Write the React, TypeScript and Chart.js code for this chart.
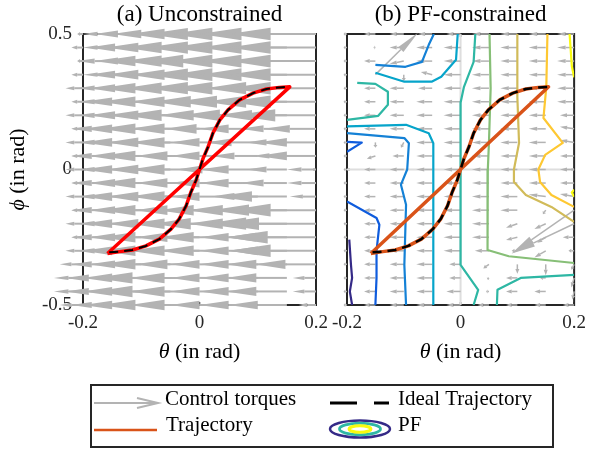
import React, { useEffect, useRef } from "react";
import { Chart, registerables } from "chart.js";
Chart.register(...registerables);

const FONT = "'Liberation Serif', 'Times New Roman', serif";
Chart.defaults.font.family = FONT;

// ---------- axes ----------
const thetaTicks = [-0.2, 0, 0.2];
const thetaTickLabels = ["-0.2", "0", "0.2"];
const phiTicks = [-0.5, 0, 0.5];
const phiTickLabels = ["-0.5", "0", "0.5"];

// ---------- quiver grid ----------
const gridTheta = [-0.2, -0.15, -0.1, -0.05, 0, 0.05, 0.1, 0.15, 0.2];
const gridPhi = [0.5, 0.45, 0.4, 0.35, 0.3, 0.25, 0.2, 0.15, 0.1, 0.05, 0, -0.05, -0.1, -0.15, -0.2, -0.25, -0.3, -0.35, -0.4, -0.45, -0.5];

// (a) unconstrained control torques (horizontal component, rows = gridPhi, cols = gridTheta)
const uLeft = [
  [-0.01, -0.05, -0.08, -0.1, -0.12, -0.14, -0.15, -0.15, -0.15],
  [-0.02, -0.05, -0.09, -0.11, -0.13, -0.14, -0.15, -0.15, -0.15],
  [-0.01, -0.06, -0.08, -0.12, -0.13, -0.15, -0.15, -0.15, -0.15],
  [-0.02, -0.05, -0.09, -0.11, -0.12, -0.14, -0.15, -0.15, -0.15],
  [-0.03, -0.06, -0.09, -0.12, -0.13, -0.14, -0.15, -0.14, -0.15],
  [-0.02, -0.06, -0.1, -0.12, -0.12, -0.13, -0.14, -0.14, -0.15],
  [-0.03, -0.06, -0.09, -0.11, -0.13, -0.12, -0.13, -0.12, -0.14],
  [-0.02, -0.07, -0.1, -0.12, -0.12, -0.11, -0.1, -0.08, -0.09],
  [-0.03, -0.06, -0.1, -0.11, -0.12, -0.1, -0.09, -0.07, -0.1],
  [-0.02, -0.07, -0.09, -0.12, -0.11, -0.1, -0.08, -0.06, -0.1],
  [-0.03, -0.06, -0.1, -0.11, -0.12, -0.09, -0.1, -0.07, -0.05],
  [-0.02, -0.07, -0.09, -0.12, -0.11, -0.1, -0.1, -0.08, -0.05],
  [-0.03, -0.06, -0.1, -0.11, -0.12, -0.1, -0.08, -0.12, -0.045],
  [-0.02, -0.07, -0.09, -0.12, -0.11, -0.12, -0.12, -0.13, -0.15],
  [-0.03, -0.06, -0.1, -0.11, -0.12, -0.13, -0.12, -0.14, -0.17],
  [-0.02, -0.07, -0.09, -0.12, -0.11, -0.12, -0.1, -0.105, -0.155],
  [-0.03, -0.06, -0.1, -0.12, -0.12, -0.12, -0.1, -0.1, -0.15],
  [-0.04, -0.07, -0.09, -0.12, -0.11, -0.1, -0.1, -0.105, -0.105],
  [-0.05, -0.08, -0.1, -0.13, -0.12, -0.1, -0.1, -0.105, -0.04],
  [-0.05, -0.08, -0.1, -0.13, -0.12, -0.1, -0.1, -0.105, -0.04],
  [-0.04, -0.07, -0.1, -0.12, -0.12, -0.1, -0.1, -0.1, -0.03],
];
const vLeft = gridPhi.map(() => gridTheta.map(() => 0));

// (b) PF-constrained control torques
const uRight = [
  [-0.006, -0.02, -0.025, -0.025, -0.025, -0.03, -0.03, -0.03, -0.03],
  [-0.006, -0.003, -0.025, -0.028, -0.03, -0.03, -0.03, -0.03, -0.03],
  [-0.006, -0.02, -0.025, -0.028, -0.03, -0.03, -0.03, -0.03, -0.03],
  [-0.006, 0.075, 0.0, -0.02, -0.03, -0.03, -0.03, -0.03, -0.03],
  [-0.006, -0.02, -0.025, -0.025, -0.03, -0.03, -0.03, -0.03, -0.03],
  [-0.006, -0.02, -0.025, -0.028, -0.03, -0.03, -0.03, -0.03, -0.03],
  [-0.006, -0.02, -0.025, -0.028, -0.03, -0.03, -0.03, -0.03, -0.025],
  [-0.006, -0.02, -0.025, -0.028, -0.03, -0.03, -0.03, -0.03, -0.025],
  [-0.006, 0.0, -0.005, -0.028, -0.03, -0.03, -0.03, -0.03, -0.025],
  [-0.006, -0.015, -0.02, -0.028, -0.03, -0.03, -0.03, -0.03, -0.025],
  [-0.006, -0.02, -0.025, -0.028, -0.03, -0.03, -0.03, -0.03, -0.025],
  [-0.006, -0.02, -0.025, -0.028, -0.03, -0.03, -0.03, -0.03, -0.025],
  [-0.006, -0.02, -0.025, -0.028, -0.03, -0.03, -0.03, -0.03, -0.025],
  [-0.006, -0.02, -0.025, -0.028, -0.03, -0.03, -0.03, -0.005, -0.11],
  [-0.006, -0.02, -0.025, -0.028, -0.03, -0.03, -0.02, -0.02, -0.11],
  [-0.006, -0.02, -0.025, -0.028, -0.03, -0.03, -0.02, -0.015, -0.02],
  [-0.006, -0.02, -0.025, -0.028, -0.03, -0.025, -0.01, -0.02, -0.01],
  [-0.006, -0.02, -0.025, -0.028, -0.02, -0.01, 0.0, 0.0, -0.005],
  [-0.006, -0.02, -0.025, -0.028, -0.02, -0.003, -0.02, -0.01, -0.005],
  [-0.006, -0.02, -0.025, -0.028, -0.025, -0.005, -0.02, -0.02, -0.003],
  [-0.006, -0.02, -0.025, -0.028, -0.025, -0.02, -0.02, -0.02, -0.02],
];
const vRight = [
  [0, 0, 0, 0, 0, 0, 0, 0, 0],
  [0, 0, 0, 0, 0, 0, 0, 0, 0],
  [0, 0, -0.01, 0, 0, 0, 0, 0, 0],
  [0, 0.155, -0.025, 0.01, 0, 0, 0, 0, 0],
  [0, 0, 0, 0, 0, 0, 0, 0, 0],
  [0, 0, 0, 0, 0, 0, 0, 0, 0],
  [0, 0, 0, 0, 0, 0, 0, 0, 0],
  [0, 0, 0, 0, 0, 0, 0, 0, 0.008],
  [0, -0.02, -0.02, 0, 0, 0, 0, 0, 0.008],
  [0, -0.01, 0, 0, 0, 0, 0, 0, 0],
  [0, 0, 0, 0, 0, 0, 0, 0, 0],
  [0, 0, 0, 0, 0, 0, 0, 0, 0],
  [0, 0, 0, 0, 0, 0, 0, 0.008, 0.01],
  [0, 0, 0, 0, 0, 0, 0, -0.015, -0.16],
  [0, 0, 0, 0, 0, 0, -0.015, -0.02, -0.11],
  [0, 0, 0, 0, 0, 0, -0.01, -0.02, 0],
  [0, 0, 0, 0, 0, 0, 0, -0.025, 0],
  [0, 0, 0, 0, 0, -0.015, -0.035, -0.04, -0.02],
  [0, 0, 0, 0, 0, -0.005, 0, 0, -0.035],
  [0, 0, 0, 0, 0, 0, 0, 0, -0.03],
  [0, 0, 0, 0, 0, 0, 0, 0, 0],
];

// ---------- trajectories ----------
const idealTheta = [-0.155, -0.137, -0.115, -0.092, -0.069, -0.049, -0.035, -0.023, -0.015, -0.006, 0, 0.006, 0.015, 0.023, 0.035, 0.049, 0.069, 0.092, 0.115, 0.137, 0.155];
const idealPhi = [-0.305, -0.303, -0.297, -0.282, -0.257, -0.22, -0.183, -0.134, -0.085, -0.04, 0, 0.04, 0.085, 0.134, 0.183, 0.22, 0.257, 0.282, 0.297, 0.303, 0.305];
const trajTheta = [-0.158, 0.155, 0.137, 0.115, 0.092, 0.069, 0.049, 0.035, 0.023, 0.015, 0.006, 0, -0.006, -0.015, -0.023, -0.035, -0.049, -0.069, -0.092, -0.115, -0.137, -0.158];
const trajPhi = [-0.31, 0.305, 0.303, 0.297, 0.282, 0.257, 0.22, 0.183, 0.134, 0.085, 0.04, 0, -0.04, -0.085, -0.134, -0.183, -0.22, -0.257, -0.282, -0.297, -0.303, -0.31];

// ---------- PF contour pieces [theta, phi] ----------
const pf1 = [[-0.196, -0.259], [-0.193, -0.352], [-0.191, -0.4], [-0.195, -0.45], [-0.191, -0.5]];
const pf2a = [[-0.2, -0.118], [-0.148, -0.179], [-0.143, -0.204], [-0.148, -0.3], [-0.148, -0.4], [-0.15, -0.5]];
const pf2b = [[-0.2, 0.102], [-0.174, 0.099], [-0.2, 0.065]];
const pf3a = [[-0.047, 0.5], [-0.056, 0.46], [-0.068, 0.397], [-0.097, 0.379], [-0.15, 0.386]];
const pf3b = [[-0.2, 0.134], [-0.099, 0.116], [-0.091, 0.097], [-0.094, 0.0], [-0.105, -0.056], [-0.096, -0.13], [-0.099, -0.352], [-0.096, -0.5]];
const pf4a = [[-0.005, 0.5], [-0.008, 0.405], [-0.034, 0.342], [-0.051, 0.324], [-0.099, 0.324], [-0.15, 0.357]];
const pf4b = [[-0.2, 0.159], [-0.096, 0.165], [-0.056, 0.134], [-0.048, 0.097], [-0.048, -0.5]];
const pf5a = [[0.026, 0.5], [0.023, 0.397], [0.006, 0.305], [0.0, 0.246], [0.0, -0.352], [0.031, -0.444], [0.023, -0.5]];
const pf5b = [[-0.182, 0.32], [-0.15, 0.316], [-0.128, 0.287], [-0.128, 0.239], [-0.145, 0.198], [-0.2, 0.183]];
const pf5c = [[0.064, -0.5], [0.065, -0.444], [0.106, -0.4], [0.2, -0.389]];
const pf6 = [[0.051, 0.5], [0.053, 0.3], [0.05, 0.1], [0.048, 0.0], [0.047, -0.14], [0.048, -0.297], [0.085, -0.32], [0.2, -0.345]];
const pf7 = [[0.1, 0.5], [0.1, 0.268], [0.103, 0.098], [0.094, 0.0], [0.094, -0.046], [0.115, -0.094], [0.16, -0.138], [0.2, -0.193]];
const pf8 = [[0.153, 0.5], [0.151, 0.305], [0.146, 0.19], [0.18, 0.098], [0.149, 0.054], [0.137, 0.0], [0.14, -0.046], [0.16, -0.094], [0.2, -0.138]];
const pf9a = [[0.192, 0.5], [0.194, 0.44], [0.196, 0.38], [0.2, 0.34]];
const pf9b = [[0.2, -0.075], [0.196, -0.085], [0.2, -0.1]];

const parula = ["#352a87", "#0f5cdd", "#1481d6", "#06a4ca", "#2eb7a4", "#87bf77", "#d1bb59", "#fec832", "#f9fb0e"];
const contourPieces: [number[][], number][] = [
  [pf1, 0], [pf2a, 1], [pf2b, 1], [pf3a, 2], [pf3b, 2], [pf4a, 3], [pf4b, 3],
  [pf5a, 4], [pf5b, 4], [pf5c, 4], [pf6, 5], [pf7, 6], [pf8, 7], [pf9a, 8], [pf9b, 8],
];

const ARROW = "#b3b3b3";
const FRAME = "#262626";
const ORANGE = "#d95319";

function xy(th: number[], ph: number[]) {
  return th.map((t, i) => ({ x: t, y: ph[i] }));
}

function drawArrow(ctx: CanvasRenderingContext2D, x0: number, y0: number, x1: number, y1: number, lw: number, headMax: number) {
  const dx = x1 - x0, dy = y1 - y0;
  const L = Math.hypot(dx, dy);
  if (L < 1) return;
  const ux = dx / L, uy = dy / L;
  const h = Math.min(L * 0.5, headMax);
  const w = Math.max(h * 0.15, 2);
  const bx = x1 - ux * h, by = y1 - uy * h;
  ctx.lineWidth = lw;
  ctx.beginPath();
  ctx.moveTo(x0, y0);
  ctx.lineTo(bx, by);
  ctx.stroke();
  ctx.beginPath();
  ctx.moveTo(x1, y1);
  ctx.lineTo(bx - uy * w, by + ux * w);
  ctx.lineTo(bx + uy * w, by - ux * w);
  ctx.closePath();
  ctx.fill();
}

function backgroundPlugin(id: string, U: number[][], V: number[][], lw: number, headMax: number, zeroLines: boolean) {
  return {
    id,
    beforeDatasetsDraw(chart: any) {
      const { ctx, chartArea: a, scales } = chart;
      const sx = scales.x, sy = scales.y;
      ctx.save();
      // box
      ctx.strokeStyle = FRAME;
      ctx.lineWidth = 2;
      ctx.strokeRect(a.left, a.top, a.right - a.left, a.bottom - a.top);
      ctx.lineWidth = 1.5;
      ctx.beginPath();
      thetaTicks.forEach((t) => {
        const px = sx.getPixelForValue(t);
        ctx.moveTo(px, a.bottom); ctx.lineTo(px, a.bottom - 3);
        ctx.moveTo(px, a.top); ctx.lineTo(px, a.top + 3);
      });
      phiTicks.forEach((p) => {
        const py = sy.getPixelForValue(p);
        ctx.moveTo(a.left, py); ctx.lineTo(a.left + 3, py);
        ctx.moveTo(a.right, py); ctx.lineTo(a.right - 3, py);
      });
      ctx.stroke();
      if (zeroLines) {
        ctx.strokeStyle = "#dedede";
        ctx.lineWidth = 2;
        ctx.beginPath();
        ctx.moveTo(sx.getPixelForValue(0), sy.getPixelForValue(0.5));
        ctx.lineTo(sx.getPixelForValue(0), sy.getPixelForValue(-0.5));
        ctx.moveTo(sx.getPixelForValue(-0.2), sy.getPixelForValue(0));
        ctx.lineTo(sx.getPixelForValue(0.2), sy.getPixelForValue(0));
        ctx.stroke();
      }
      // quiver
      ctx.strokeStyle = ARROW;
      ctx.fillStyle = ARROW;
      gridPhi.forEach((p, r) => {
        gridTheta.forEach((t, c) => {
          const x0 = sx.getPixelForValue(t), y0 = sy.getPixelForValue(p);
          const x1 = sx.getPixelForValue(t + U[r][c]), y1 = sy.getPixelForValue(p + V[r][c]);
          drawArrow(ctx, x0, y0, x1, y1, lw, headMax);
        });
      });
      ctx.restore();
    },
  };
}

function drawRuns(ctx: CanvasRenderingContext2D, runs: [string, boolean][], size: number, cx: number, cy: number) {
  const fonts = runs.map(([, it]) => `${it ? "italic " : ""}${size}px ${FONT}`);
  let total = 0;
  const widths = runs.map(([s], i) => { ctx.font = fonts[i]; const w = ctx.measureText(s).width; total += w; return w; });
  let x = cx - total / 2;
  runs.forEach(([s], i) => { ctx.font = fonts[i]; ctx.fillText(s, x, cy); x += widths[i]; });
}

function textPlugin(id: string, title: string, showYLabel: boolean) {
  return {
    id,
    afterDraw(chart: any) {
      const { ctx, chartArea: a } = chart;
      const cx = (a.left + a.right) / 2;
      ctx.save();
      ctx.fillStyle = "#000";
      ctx.textBaseline = "alphabetic";
      ctx.textAlign = "left";
      drawRuns(ctx, [[title, false]], 23, cx, 21);
      ctx.textBaseline = "middle";
      drawRuns(ctx, [["θ", true], [" (in rad)", false]], 22, cx, 352);
      if (showYLabel) {
        ctx.translate(18, (a.top + a.bottom) / 2);
        ctx.rotate(-Math.PI / 2);
        drawRuns(ctx, [["ϕ", true], [" (in rad)", false]], 22, 0, 0);
      }
      ctx.restore();
    },
  };
}

const legendPlugin = {
  id: "pfLegend",
  afterDraw(chart: any) {
    const ctx: CanvasRenderingContext2D = chart.ctx;
    ctx.save();
    ctx.fillStyle = "#fff";
    ctx.fillRect(91, 385, 462, 62);
    ctx.strokeStyle = FRAME;
    ctx.lineWidth = 2;
    ctx.strokeRect(91, 385, 462, 62);
    // arrow icon
    ctx.strokeStyle = ARROW;
    ctx.lineWidth = 2;
    ctx.beginPath();
    ctx.moveTo(94, 403); ctx.lineTo(157, 403);
    ctx.moveTo(137, 398); ctx.lineTo(158, 403); ctx.lineTo(137, 408);
    ctx.stroke();
    // dashed ideal
    ctx.strokeStyle = "#000";
    ctx.lineWidth = 3;
    ctx.beginPath();
    ctx.moveTo(330, 403); ctx.lineTo(357, 403);
    ctx.moveTo(374, 403); ctx.lineTo(389, 403);
    ctx.stroke();
    // trajectory
    ctx.strokeStyle = ORANGE;
    ctx.lineWidth = 2.5;
    ctx.beginPath();
    ctx.moveTo(94, 430); ctx.lineTo(157, 430);
    ctx.stroke();
    // PF ellipses
    const el = (rx: number, ry: number, col: string, lw: number) => {
      ctx.strokeStyle = col; ctx.lineWidth = lw;
      ctx.beginPath(); ctx.ellipse(360, 429, rx, ry, 0, 0, Math.PI * 2); ctx.stroke();
    };
    el(30, 8.5, parula[0], 2.5);
    el(20.5, 5.8, parula[4], 2.8);
    el(11, 3.2, parula[8], 3);
    // texts
    ctx.fillStyle = "#000";
    ctx.font = `21px ${FONT}`;
    ctx.textBaseline = "alphabetic";
    ctx.textAlign = "left";
    ctx.fillText("Control torques", 165, 405);
    ctx.fillText("Ideal Trajectory", 398, 405);
    ctx.fillText("Trajectory", 166, 431);
    ctx.fillText("PF", 398, 431);
    ctx.restore();
  },
};

function scaleX() {
  return {
    type: "linear" as const,
    min: -0.2,
    max: 0.2,
    afterBuildTicks: (s: any) => { s.ticks = thetaTicks.map((v) => ({ value: v })); },
    afterFit: (s: any) => { s.height = 145; },
    ticks: {
      callback: (_v: any, i: number) => thetaTickLabels[i],
      padding: 7,
      color: FRAME,
      font: { size: 19, family: FONT },
      maxRotation: 0,
      autoSkip: false,
    },
    grid: { display: false, drawTicks: false },
    border: { display: false },
  };
}

function scaleY(show: boolean) {
  return {
    type: "linear" as const,
    min: -0.5,
    max: 0.5,
    display: show,
    afterBuildTicks: (s: any) => { s.ticks = phiTicks.map((v) => ({ value: v })); },
    afterFit: (s: any) => { if (show) s.width = 83; },
    ticks: {
      callback: (_v: any, i: number) => phiTickLabels[i],
      padding: 11,
      color: FRAME,
      font: { size: 19, family: FONT },
      autoSkip: false,
    },
    grid: { display: false, drawTicks: false },
    border: { display: false },
  };
}

function lineDs(data: any[], color: string, width: number, order: number, dash: number[] = []) {
  return {
    data,
    showLine: true,
    borderColor: color,
    backgroundColor: color,
    borderWidth: width,
    borderDash: dash,
    pointRadius: 0,
    fill: false,
    tension: 0,
    order,
    borderJoinStyle: "round" as const,
  };
}

export default function App() {
  const refA = useRef<HTMLCanvasElement>(null);
  const refB = useRef<HTMLCanvasElement>(null);

  useEffect(() => {
    const common = {
      responsive: false,
      animation: false as const,
      events: [] as any[],
      plugins: { legend: { display: false }, tooltip: { enabled: false }, title: { display: false } },
    };
    const chartA = new Chart(refA.current!, {
      type: "scatter",
      data: {
        datasets: [
          lineDs(xy(idealTheta, idealPhi), "#000", 2, 0, [9, 6]),
          lineDs(xy(trajTheta, trajPhi), "#ff0000", 3.5, 1),
        ],
      },
      options: {
        ...common,
        layout: { padding: { left: 0, top: 34, right: 277, bottom: 0 } },
        scales: { x: scaleX(), y: scaleY(true) },
      } as any,
      plugins: [backgroundPlugin("bgA", uLeft, vLeft, 2, 42, false), textPlugin("txtA", "(a) Unconstrained", true)],
    });
    const contourDs = contourPieces.map(([pts, lvl]) =>
      lineDs(pts.map(([t, p]) => ({ x: t, y: p })), parula[lvl], 2.2, 5)
    );
    const chartB = new Chart(refB.current!, {
      type: "scatter",
      data: {
        datasets: [
          lineDs(xy(idealTheta, idealPhi), "#000", 2.5, 0, [9, 6]),
          lineDs(xy(trajTheta, trajPhi), ORANGE, 3.5, 1),
          ...contourDs,
        ],
      },
      options: {
        ...common,
        layout: { padding: { left: 347, top: 34, right: 12, bottom: 0 } },
        scales: { x: scaleX(), y: scaleY(false) },
      } as any,
      plugins: [backgroundPlugin("bgB", uRight, vRight, 1.5, 24, true), textPlugin("txtB", "(b) PF-constrained", false), legendPlugin],
    });
    return () => {
      chartA.destroy();
      chartB.destroy();
    };
  }, []);

  const cs: React.CSSProperties = { position: "absolute", left: 0, top: 0, width: 593, height: 450 };
  return (
    <div style={{ position: "absolute", left: 0, top: 0, width: 593, height: 450, background: "#fff" }}>
      <canvas ref={refA} width={593} height={450} style={cs} />
      <canvas ref={refB} width={593} height={450} style={cs} />
    </div>
  );
}
